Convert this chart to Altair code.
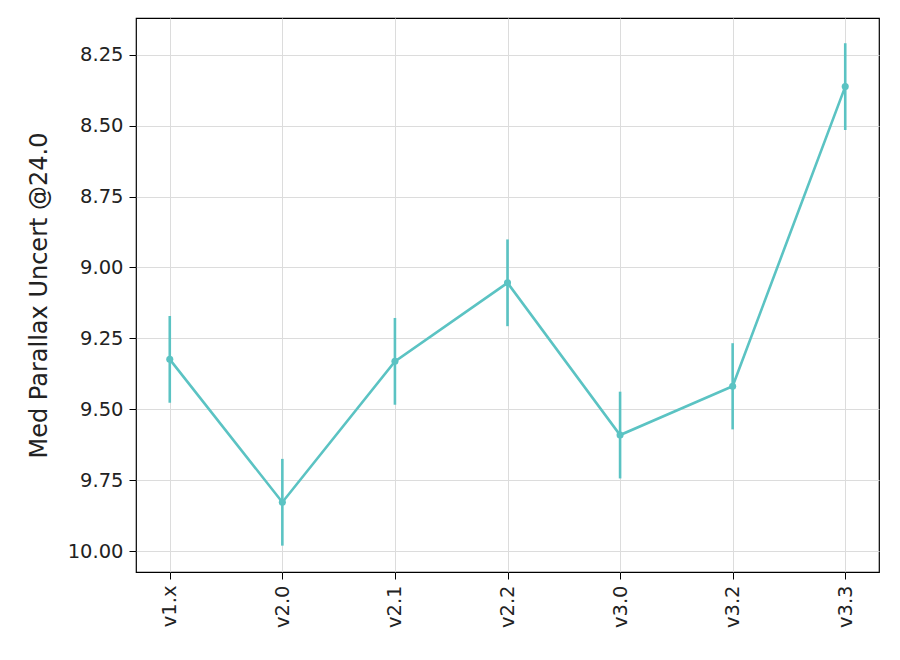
import altair as alt
import pandas as pd

versions = ["v1.x", "v2.0", "v2.1", "v2.2", "v3.0", "v3.2", "v3.3"]
med_uncert = [9.324, 9.828, 9.331, 9.054, 9.591, 9.419, 8.362]
err = [0.153, 0.153, 0.153, 0.153, 0.153, 0.152, 0.153]
y_ticks = [8.25, 8.50, 8.75, 9.00, 9.25, 9.50, 9.75, 10.00]

df = pd.DataFrame({"version": versions, "val": med_uncert, "err": err})

color = "#5bc3c3"
font = "DejaVu Sans"

x_enc = alt.X("version:O", sort=versions, title=None,
              scale=alt.Scale(type="point", padding=0.3),
              axis=alt.Axis(labelAngle=270, labelFontSize=19.5, labelFont=font,
                            labelColor="#222222", tickColor="black", tickSize=7,
                            domain=False, grid=True, gridColor="#dcdcdc",
                            labelPadding=6, labelBaseline="middle", labelAlign="right"))
y_scale = alt.Scale(domain=[8.12, 10.074], reverse=True, nice=False, zero=False)
y_axis = alt.Axis(values=y_ticks, format=".2f", labelFontSize=19.5, labelFont=font,
                  labelColor="#222222", tickColor="black", tickSize=7, domain=False,
                  grid=True, gridColor="#dcdcdc", title="Med Parallax Uncert @24.0",
                  titleFontSize=24, titleFont=font, titleFontWeight="normal",
                  titleColor="#222222", titlePadding=16, labelPadding=6)

base = alt.Chart(df).transform_calculate(
    lo="datum.val - datum.err", hi="datum.val + datum.err"
)

line = base.mark_line(color=color, strokeWidth=2.6).encode(
    x=x_enc, y=alt.Y("val:Q", scale=y_scale, axis=y_axis))
pts = base.mark_circle(color=color, size=50, opacity=1).encode(
    x=alt.X("version:O", sort=versions), y=alt.Y("val:Q"))
bars = base.mark_rule(color=color, strokeWidth=2.6).encode(
    x=alt.X("version:O", sort=versions), y=alt.Y("lo:Q"), y2="hi:Q")

chart = alt.layer(line, bars, pts).properties(
    width=743, height=554,
    padding={"left": 19, "top": 10, "right": 5, "bottom": 5}
).configure(background="white").configure_view(stroke="black", strokeWidth=1.2)

chart.save("out.html", embed_options={"renderer": "svg", "actions": False})
